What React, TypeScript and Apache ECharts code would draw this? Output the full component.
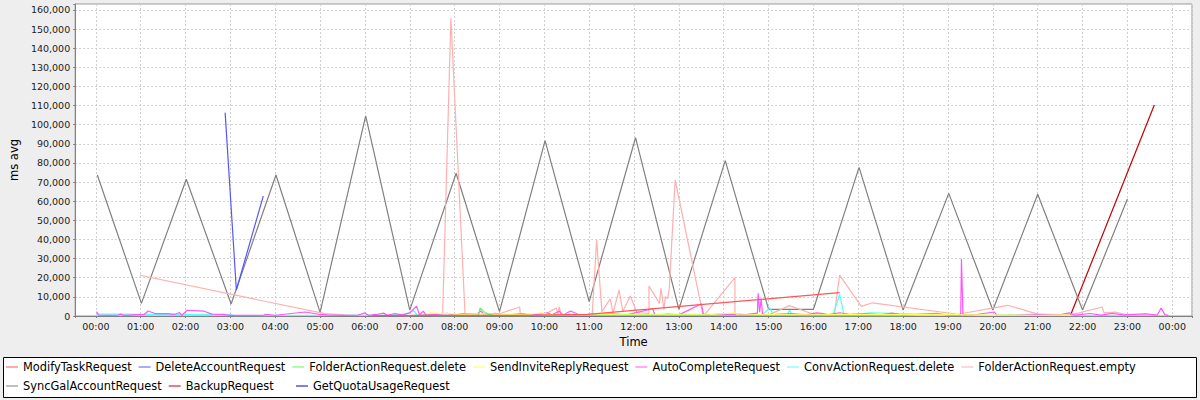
import React, { useEffect, useRef } from "react";
import * as echarts from "echarts";

type Pt = [string, number];

const seriesNames = [
  "ModifyTaskRequest",
  "DeleteAccountRequest",
  "FolderActionRequest.delete",
  "SendInviteReplyRequest",
  "AutoCompleteRequest",
  "ConvActionRequest.delete",
  "FolderActionRequest.empty",
  "SyncGalAccountRequest",
  "BackupRequest",
  "GetQuotaUsageRequest",
];

const seriesColors = [
  "#FF5555", "#5555FF", "#55FF55", "#FFFF55", "#FF55FF",
  "#55FFFF", "#FFAFAF", "#808080", "#C00000", "#0000C0",
];

const hourLabels = [
  "00:00", "01:00", "02:00", "03:00", "04:00", "05:00", "06:00", "07:00",
  "08:00", "09:00", "10:00", "11:00", "12:00", "13:00", "14:00", "15:00",
  "16:00", "17:00", "18:00", "19:00", "20:00", "21:00", "22:00", "23:00", "00:00",
];

const modifyTask: Pt[] = [
  ["06:10", 200], ["07:40", 300], ["09:20", 300], ["10:58", 900], ["16:35", 12200],
];

const deleteAccount: Pt[] = [
  ["02:53", 106300], ["03:08", 13600], ["03:44", 62700],
];

const folderDelete: Pt[] = [
  ["07:30", 200], ["08:32", 300], ["08:34", 4200], ["08:41", 1600], ["08:51", 300],
  ["10:00", 200], ["11:00", 300], ["13:00", 300], ["15:00", 200], ["17:00", 200], ["18:00", 100],
];

const sendInvite: Pt[] = [
  ["07:25", 1600], ["07:50", 1200], ["08:10", 800], ["08:40", 1100], ["09:10", 900],
  ["09:40", 800], ["09:56", 1700], ["10:05", 700], ["10:40", 900], ["11:00", 600],
  ["11:30", 1000], ["12:00", 900], ["12:30", 700], ["13:00", 800], ["13:40", 600],
  ["14:14", 1700], ["14:20", 500], ["15:00", 700], ["16:00", 600], ["17:00", 900],
  ["18:00", 700], ["19:00", 900], ["19:13", 700], ["20:00", 500], ["21:00", 400],
  ["21:40", 600], ["21:44", 200],
];

const autoComplete: Pt[] = [
  ["00:01", 2300], ["00:04", 400], ["00:15", 300], ["00:30", 500], ["00:33", 1000],
  ["00:38", 300], ["00:50", 600], ["01:05", 900], ["01:10", 2600], ["01:20", 1200],
  ["01:35", 1200], ["01:45", 800], ["01:52", 1800], ["01:55", 300], ["02:02", 3000],
  ["02:25", 2500], ["02:35", 1000], ["02:50", 800], ["03:00", 300], ["03:30", 300],
  ["03:45", 400], ["03:47", 900], ["04:00", 400], ["04:40", 2100], ["04:58", 900],
  ["05:10", 600], ["05:30", 300], ["05:50", 400], ["06:00", 1600], ["06:05", 300],
  ["06:15", 800], ["06:25", 1500], ["06:30", 400], ["06:40", 1300], ["06:50", 600],
  ["07:00", 1600], ["07:09", 5200], ["07:13", 600], ["07:18", 2500], ["07:22", 400],
  ["07:35", 800], ["07:50", 1400], ["08:00", 500], ["08:10", 1200], ["08:30", 1000],
  ["08:35", 2600], ["08:40", 600], ["08:55", 1400], ["09:05", 400], ["09:30", 1200],
  ["09:45", 500], ["10:05", 1600], ["10:10", 600], ["10:20", 2500], ["10:25", 500],
  ["10:35", 2600], ["10:45", 900], ["11:00", 300], ["11:30", 1200], ["11:50", 600],
  ["12:00", 1500], ["12:25", 3800], ["12:28", 400], ["12:45", 1000], ["13:00", 600],
  ["13:30", 6400], ["13:33", 500], ["13:50", 900], ["14:10", 1000], ["14:30", 700],
  ["14:45", 1500], ["14:46", 11900], ["14:48", 2000], ["14:50", 9000], ["14:52", 700],
  ["15:10", 900], ["15:30", 1300], ["15:50", 600], ["16:05", 1600], ["16:20", 700],
  ["16:35", 1700], ["16:50", 800], ["17:10", 1200], ["17:30", 600], ["17:45", 1500],
  ["18:00", 400], ["18:20", 800], ["18:45", 1400], ["19:00", 500], ["19:17", 400],
  ["19:18", 29800], ["19:20", 500], ["19:40", 900], ["20:02", 2100], ["20:05", 500],
  ["20:30", 400], ["21:00", 700], ["21:30", 600], ["21:42", 1600], ["21:50", 500],
  ["22:10", 1300], ["22:25", 500], ["22:40", 1400], ["22:55", 600], ["23:10", 900],
  ["23:25", 1100], ["23:40", 500], ["23:45", 4200], ["23:50", 700], ["23:55", 300],
];

const convDelete: Pt[] = [
  ["00:00", 1000], ["00:30", 1000], ["01:00", 900], ["02:00", 800], ["03:00", 700],
  ["03:05", 200], ["05:00", 300], ["06:30", 300], ["06:55", 1000], ["07:05", 3000],
  ["07:10", 500], ["08:00", 300], ["09:00", 400], ["10:00", 300], ["11:00", 800],
  ["11:05", 1500], ["11:10", 400], ["12:00", 500], ["13:00", 800], ["14:00", 600],
  ["14:50", 300], ["15:02", 4200], ["15:06", 600], ["15:25", 800], ["15:28", 3000],
  ["15:32", 500], ["16:00", 400], ["16:26", 400], ["16:35", 11400], ["16:41", 300],
  ["17:17", 1700], ["17:55", 1200], ["18:30", 800], ["19:00", 300], ["20:00", 300],
  ["21:00", 1000], ["21:30", 300], ["22:00", 200], ["23:00", 200],
];

const folderEmpty: Pt[] = [
  ["00:59", 21300], ["05:06", 1200], ["05:40", 400], ["06:30", 300], ["07:00", 200],
  ["07:44", 1400], ["07:55", 155700], ["08:14", 300], ["08:40", 500], ["09:00", 1200],
  ["09:27", 4700], ["09:28", 500], ["10:00", 600], ["10:16", 4200], ["10:18", 1000],
  ["10:20", 4800], ["10:22", 900], ["11:04", 400], ["11:10", 39700], ["11:17", 2300],
  ["11:28", 8900], ["11:32", 1700], ["11:40", 13600], ["11:45", 2300], ["11:55", 10500],
  ["12:04", 1700], ["12:20", 1400], ["12:20", 15700], ["12:34", 6600], ["12:36", 14500],
  ["12:40", 3500], ["12:42", 10100], ["12:45", 9200], ["12:47", 13600], ["12:55", 71100],
  ["13:30", 4900], ["13:32", 500], ["13:35", 1000], ["14:15", 20000], ["14:15", 400],
  ["15:00", 600], ["15:28", 5400], ["16:00", 900], ["16:28", 600], ["16:35", 21400],
  ["17:04", 5000], ["17:19", 6900], ["19:13", 900], ["20:20", 5600], ["21:00", 1000],
  ["21:45", 600], ["22:26", 4700], ["22:29", 1600], ["22:44", 2100], ["23:00", 500],
];

const syncGal: Pt[] = [
  ["00:02", 73700], ["01:01", 6600], ["02:01", 71500], ["03:01", 6300], ["04:01", 73700],
  ["05:00", 1900], ["06:01", 104600], ["07:00", 3100], ["08:02", 74600], ["09:00", 2300],
  ["10:01", 91700], ["11:00", 7500], ["12:02", 93200], ["13:00", 3500], ["14:02", 81200],
  ["15:00", 3500], ["16:00", 3500], ["17:01", 77700], ["18:00", 3100], ["19:01", 64100],
  ["20:00", 3100], ["21:00", 63600], ["22:00", 3100], ["23:00", 61200],
];

const backup: Pt[] = [
  ["21:44", 500], ["23:36", 110300],
];

const getQuota: Pt[] = [
  ["09:40", 150], ["15:40", 200],
];

const seriesData: Pt[][] = [
  modifyTask, deleteAccount, folderDelete, sendInvite, autoComplete,
  convDelete, folderEmpty, syncGal, backup, getQuota,
];

const toHours = (t: string) => {
  const [h, m] = t.split(":").map(Number);
  return h + m / 60;
};

const FONT = "DejaVu Sans";

export default function App() {
  const ref = useRef<HTMLDivElement>(null);
  useEffect(() => {
    if (!ref.current) return;
    const chart = echarts.init(ref.current, null, { renderer: "svg" });
    const series = seriesNames
      .map((name, i) => ({
        name,
        type: "line",
        data: seriesData[i].map(([t, v]) => [toHours(t), v]),
        showSymbol: false,
        symbol: "none",
        color: seriesColors[i],
        lineStyle: { width: 1.2, color: seriesColors[i] },
        z: 2,
      }))
      .reverse();

    const legendBase = {
      orient: "horizontal",
      icon: "rect",
      itemWidth: 12,
      itemHeight: 1,
      itemGap: 7,
      padding: 0,
      selectedMode: false,
      textStyle: { fontFamily: FONT, fontSize: 11.4, color: "#000", padding: [0, 0, 0, 0] },
    };

    chart.setOption({
      animation: false,
      backgroundColor: "#EEEEEE",
      grid: {
        left: 75, right: 8, top: 4, bottom: 84,
        show: true, backgroundColor: "#FFFFFF", borderColor: "#999999", borderWidth: 1,
      },
      xAxis: {
        type: "value",
        min: -0.46,
        max: 24.44,
        splitNumber: 25,
        name: "Time",
        nameLocation: "middle",
        nameGap: 20,
        nameTextStyle: { fontFamily: FONT, fontSize: 11.5, color: "#000" },
        axisLine: { show: true, onZero: false, lineStyle: { color: "#808080" } },
        axisTick: { show: true, length: 2, lineStyle: { color: "#808080" } },
        axisLabel: {
          margin: 5,
          fontFamily: FONT,
          fontSize: 9.5,
          color: "#222",
          formatter: (v: number) => {
            const r = Math.round(v);
            if (Math.abs(v - r) > 1e-6 || r < 0 || r >= hourLabels.length) return "";
            return hourLabels[r];
          },
        },
        splitLine: { show: true, lineStyle: { color: "#D0D0D0", type: [2, 2], width: 1 } },
      },
      yAxis: {
        type: "value",
        min: 0,
        max: 163100,
        interval: 10000,
        name: "ms avg",
        nameLocation: "middle",
        nameGap: 48,
        nameRotate: 90,
        nameTextStyle: { fontFamily: FONT, fontSize: 11.5, color: "#000" },
        axisLine: { show: true, onZero: false, lineStyle: { color: "#808080" } },
        axisTick: { show: true, length: 2, lineStyle: { color: "#808080" } },
        axisLabel: {
          margin: 5,
          fontFamily: FONT,
          fontSize: 9.5,
          color: "#222",
          formatter: (v: number) => (v % 10000 === 0 ? v.toLocaleString("en-US") : ""),
        },
        splitLine: { show: true, lineStyle: { color: "#D0D0D0", type: [2, 2], width: 1 } },
      },
      graphic: [
        {
          type: "rect",
          z: 0,
          shape: { x: 3.5, y: 357.5, width: 1193, height: 40 },
          style: { fill: "#FFFFFF", stroke: "#000000", lineWidth: 1 },
        },
      ],
      legend: [
        { ...legendBase, left: 6, top: 361.5, data: seriesNames.slice(0, 7) },
        { ...legendBase, left: 6, top: 380.5, data: seriesNames.slice(7, 9) },
        { ...legendBase, left: 296, top: 380.5, data: seriesNames.slice(9, 10) },
      ],
      series,
    });
    return () => chart.dispose();
  }, []);
  return (
    <div
      ref={ref}
      style={{ position: "absolute", left: 0, top: 0, width: 1200, height: 400 }}
    />
  );
}
